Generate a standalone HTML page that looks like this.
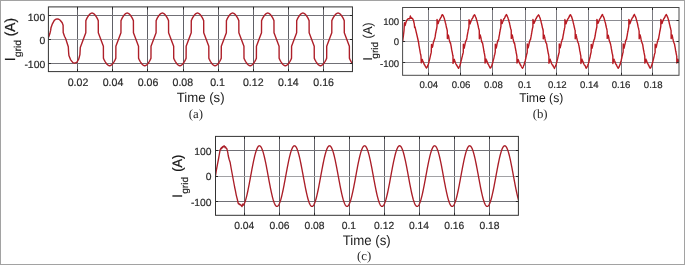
<!DOCTYPE html>
<html><head><meta charset="utf-8"><style>
html,body{margin:0;padding:0;background:#fff;}
body{width:685px;height:265px;overflow:hidden;position:relative;font-family:"Liberation Sans",sans-serif;}
.frame{position:absolute;left:0;top:0;width:685px;height:265px;box-sizing:border-box;border:1px solid #a2a2a2;}
svg{position:absolute;left:0;top:0;will-change:transform;}
svg text{font-family:"Liberation Sans",sans-serif;text-rendering:geometricPrecision;}
</style></head><body>
<div class="frame"></div>
<svg width="685" height="265" viewBox="0 0 685 265">
<clipPath id="ca"><rect x="48.4" y="6.9" width="304.05" height="64.7"/></clipPath>
<path d="M77.5 6.9V71.6M112.5 6.9V71.6M147.5 6.9V71.6M183.5 6.9V71.6M218.5 6.9V71.6M253.5 6.9V71.6M288.5 6.9V71.6M323.5 6.9V71.6" stroke="#606066" stroke-width="1" fill="none"/>
<path d="M48.4 15.5H352.45M48.4 63.5H352.45" stroke="#707076" stroke-width="1" fill="none"/>
<path d="M48.4 39.5H352.45" stroke="#a2a2a6" stroke-width="1" fill="none"/>
<path d="M48.6 37.2 L49.9 33.6 L50.7 30.2 L51 27.7 L52.4 23.8 L54.3 20.4 L55.8 19.3 L57.3 18.9 L58.8 19.2 L60.2 20.3 L62.2 22.8 L63.1 25.2 L63.2 32.6 L64.6 36.5 L65.6 38.4 L67 42.7 L68.3 46.8 L68.6 52 L68.9 55.5 L70.5 59.6 L72.9 62.6 L74.6 63.2 L76.8 62.3 L78.7 59.2 L79.9 54.6 L80.3 47.6 L83.28 39.4 L85.81 32.67 L85.86 20.64 L86.38 19.43 L86.89 18.4 L87.41 17.45 L87.93 16.58 L88.44 15.79 L88.96 15.1 L89.48 14.49 L89.99 13.99 L90.51 13.59 L91.03 13.3 L91.54 13.12 L92.06 13.07 L92.58 13.12 L93.09 13.3 L93.61 13.59 L94.13 13.99 L94.64 14.49 L95.16 15.1 L95.68 15.79 L96.19 16.58 L96.71 17.45 L97.23 18.4 L97.74 19.43 L98.26 20.64 L98.31 32.67 L100.84 39.4 L103.38 46.13 L103.43 58.16 L103.95 59.37 L104.46 60.4 L104.98 61.35 L105.5 62.22 L106.01 63.01 L106.53 63.7 L107.05 64.31 L107.56 64.81 L108.08 65.21 L108.6 65.5 L109.11 65.68 L109.63 65.73 L110.15 65.68 L110.66 65.5 L111.18 65.21 L111.7 64.81 L112.21 64.31 L112.73 63.7 L113.25 63.01 L113.76 62.22 L114.28 61.35 L114.8 60.4 L115.31 59.37 L115.83 58.16 L115.88 46.13 L118.42 39.4 L120.95 32.67 L121 20.64 L121.52 19.43 L122.03 18.4 L122.55 17.45 L123.07 16.58 L123.58 15.79 L124.1 15.1 L124.62 14.49 L125.13 13.99 L125.65 13.59 L126.17 13.3 L126.68 13.12 L127.2 13.07 L127.72 13.12 L128.23 13.3 L128.75 13.59 L129.27 13.99 L129.78 14.49 L130.3 15.1 L130.82 15.79 L131.33 16.58 L131.85 17.45 L132.37 18.4 L132.88 19.43 L133.4 20.64 L133.45 32.67 L135.99 39.4 L138.52 46.13 L138.57 58.16 L139.09 59.37 L139.6 60.4 L140.12 61.35 L140.64 62.22 L141.15 63.01 L141.67 63.7 L142.19 64.31 L142.7 64.81 L143.22 65.21 L143.74 65.5 L144.25 65.68 L144.77 65.73 L145.29 65.68 L145.8 65.5 L146.32 65.21 L146.84 64.81 L147.35 64.31 L147.87 63.7 L148.39 63.01 L148.9 62.22 L149.42 61.35 L149.94 60.4 L150.45 59.37 L150.97 58.16 L151.02 46.13 L153.56 39.4 L156.09 32.67 L156.14 20.64 L156.66 19.43 L157.17 18.4 L157.69 17.45 L158.21 16.58 L158.72 15.79 L159.24 15.1 L159.76 14.49 L160.27 13.99 L160.79 13.59 L161.31 13.3 L161.82 13.12 L162.34 13.07 L162.86 13.12 L163.37 13.3 L163.89 13.59 L164.41 13.99 L164.92 14.49 L165.44 15.1 L165.96 15.79 L166.47 16.58 L166.99 17.45 L167.51 18.4 L168.02 19.43 L168.54 20.64 L168.59 32.67 L171.12 39.4 L173.66 46.13 L173.71 58.16 L174.23 59.37 L174.74 60.4 L175.26 61.35 L175.78 62.22 L176.29 63.01 L176.81 63.7 L177.33 64.31 L177.84 64.81 L178.36 65.21 L178.88 65.5 L179.39 65.68 L179.91 65.73 L180.43 65.68 L180.94 65.5 L181.46 65.21 L181.98 64.81 L182.49 64.31 L183.01 63.7 L183.53 63.01 L184.04 62.22 L184.56 61.35 L185.08 60.4 L185.59 59.37 L186.11 58.16 L186.16 46.13 L188.7 39.4 L191.23 32.67 L191.28 20.64 L191.8 19.43 L192.31 18.4 L192.83 17.45 L193.35 16.58 L193.86 15.79 L194.38 15.1 L194.9 14.49 L195.41 13.99 L195.93 13.59 L196.45 13.3 L196.96 13.12 L197.48 13.07 L198 13.12 L198.51 13.3 L199.03 13.59 L199.55 13.99 L200.06 14.49 L200.58 15.1 L201.1 15.79 L201.61 16.58 L202.13 17.45 L202.65 18.4 L203.16 19.43 L203.68 20.64 L203.73 32.67 L206.27 39.4 L208.8 46.13 L208.85 58.16 L209.37 59.37 L209.88 60.4 L210.4 61.35 L210.92 62.22 L211.43 63.01 L211.95 63.7 L212.47 64.31 L212.98 64.81 L213.5 65.21 L214.02 65.5 L214.53 65.68 L215.05 65.73 L215.57 65.68 L216.08 65.5 L216.6 65.21 L217.12 64.81 L217.63 64.31 L218.15 63.7 L218.67 63.01 L219.18 62.22 L219.7 61.35 L220.22 60.4 L220.73 59.37 L221.25 58.16 L221.3 46.13 L223.84 39.4 L226.37 32.67 L226.42 20.64 L226.94 19.43 L227.45 18.4 L227.97 17.45 L228.49 16.58 L229 15.79 L229.52 15.1 L230.04 14.49 L230.55 13.99 L231.07 13.59 L231.59 13.3 L232.1 13.12 L232.62 13.07 L233.14 13.12 L233.65 13.3 L234.17 13.59 L234.69 13.99 L235.2 14.49 L235.72 15.1 L236.24 15.79 L236.75 16.58 L237.27 17.45 L237.79 18.4 L238.3 19.43 L238.82 20.64 L238.87 32.67 L241.41 39.4 L243.94 46.13 L243.99 58.16 L244.51 59.37 L245.02 60.4 L245.54 61.35 L246.06 62.22 L246.57 63.01 L247.09 63.7 L247.61 64.31 L248.12 64.81 L248.64 65.21 L249.16 65.5 L249.67 65.68 L250.19 65.73 L250.71 65.68 L251.22 65.5 L251.74 65.21 L252.26 64.81 L252.77 64.31 L253.29 63.7 L253.81 63.01 L254.32 62.22 L254.84 61.35 L255.36 60.4 L255.87 59.37 L256.39 58.16 L256.44 46.13 L258.97 39.4 L261.51 32.67 L261.56 20.64 L262.08 19.43 L262.59 18.4 L263.11 17.45 L263.63 16.58 L264.14 15.79 L264.66 15.1 L265.18 14.49 L265.69 13.99 L266.21 13.59 L266.73 13.3 L267.24 13.12 L267.76 13.07 L268.28 13.12 L268.79 13.3 L269.31 13.59 L269.83 13.99 L270.34 14.49 L270.86 15.1 L271.38 15.79 L271.89 16.58 L272.41 17.45 L272.93 18.4 L273.44 19.43 L273.96 20.64 L274.01 32.67 L276.54 39.4 L279.08 46.13 L279.13 58.16 L279.65 59.37 L280.16 60.4 L280.68 61.35 L281.2 62.22 L281.71 63.01 L282.23 63.7 L282.75 64.31 L283.26 64.81 L283.78 65.21 L284.3 65.5 L284.81 65.68 L285.33 65.73 L285.85 65.68 L286.36 65.5 L286.88 65.21 L287.4 64.81 L287.91 64.31 L288.43 63.7 L288.95 63.01 L289.46 62.22 L289.98 61.35 L290.5 60.4 L291.01 59.37 L291.53 58.16 L291.58 46.13 L294.11 39.4 L296.65 32.67 L296.7 20.64 L297.22 19.43 L297.73 18.4 L298.25 17.45 L298.77 16.58 L299.28 15.79 L299.8 15.1 L300.32 14.49 L300.83 13.99 L301.35 13.59 L301.87 13.3 L302.38 13.12 L302.9 13.07 L303.42 13.12 L303.93 13.3 L304.45 13.59 L304.97 13.99 L305.48 14.49 L306 15.1 L306.52 15.79 L307.03 16.58 L307.55 17.45 L308.07 18.4 L308.58 19.43 L309.1 20.64 L309.15 32.67 L311.68 39.4 L314.22 46.13 L314.27 58.16 L314.79 59.37 L315.3 60.4 L315.82 61.35 L316.34 62.22 L316.85 63.01 L317.37 63.7 L317.89 64.31 L318.4 64.81 L318.92 65.21 L319.44 65.5 L319.95 65.68 L320.47 65.73 L320.99 65.68 L321.5 65.5 L322.02 65.21 L322.54 64.81 L323.05 64.31 L323.57 63.7 L324.09 63.01 L324.6 62.22 L325.12 61.35 L325.64 60.4 L326.15 59.37 L326.67 58.16 L326.72 46.13 L329.25 39.4 L331.79 32.67 L331.84 20.64 L332.36 19.43 L332.87 18.4 L333.39 17.45 L333.91 16.58 L334.42 15.79 L334.94 15.1 L335.46 14.49 L335.97 13.99 L336.49 13.59 L337.01 13.3 L337.52 13.12 L338.04 13.07 L338.56 13.12 L339.07 13.3 L339.59 13.59 L340.11 13.99 L340.62 14.49 L341.14 15.1 L341.66 15.79 L342.17 16.58 L342.69 17.45 L343.21 18.4 L343.72 19.43 L344.24 20.64 L344.29 32.67 L346.82 39.4 L349.36 46.13 L349.41 58.16 L349.93 59.37 L350.44 60.4 L350.96 61.35 L351.48 62.22 L351.99 63.01 L352.51 63.7 L353.03 64.31 L353.54 64.81 L354.06 65.21 L354.58 65.5 L355.09 65.68" stroke="#ae1f29" stroke-width="1.4" fill="none" stroke-linejoin="round" clip-path="url(#ca)"/>
<path d="M77.5 71.6v-2.5M77.5 6.9v2.5M112.5 71.6v-2.5M112.5 6.9v2.5M147.5 71.6v-2.5M147.5 6.9v2.5M183.5 71.6v-2.5M183.5 6.9v2.5M218.5 71.6v-2.5M218.5 6.9v2.5M253.5 71.6v-2.5M253.5 6.9v2.5M288.5 71.6v-2.5M288.5 6.9v2.5M323.5 71.6v-2.5M323.5 6.9v2.5M48.4 15.5h2.5M352.45 15.5h-2.5M48.4 39.5h2.5M352.45 39.5h-2.5M48.4 63.5h2.5M352.45 63.5h-2.5" stroke="#262626" stroke-width="1" fill="none"/>
<rect x="48.4" y="6.9" width="304.05" height="64.7" stroke="#333333" stroke-width="1" fill="none"/>
<text transform="translate(78 85.8) scale(0.98 1)" font-size="10.8" text-anchor="middle" fill="#2a2a2a" stroke="#2a2a2a" stroke-width="0.2">0.02</text>
<text transform="translate(113 85.8) scale(0.98 1)" font-size="10.8" text-anchor="middle" fill="#2a2a2a" stroke="#2a2a2a" stroke-width="0.2">0.04</text>
<text transform="translate(148.03 85.8) scale(0.98 1)" font-size="10.8" text-anchor="middle" fill="#2a2a2a" stroke="#2a2a2a" stroke-width="0.2">0.06</text>
<text transform="translate(182.8 85.8) scale(0.98 1)" font-size="10.8" text-anchor="middle" fill="#2a2a2a" stroke="#2a2a2a" stroke-width="0.2">0.08</text>
<text transform="translate(217.55 85.8) scale(0.98 1)" font-size="10.8" text-anchor="middle" fill="#2a2a2a" stroke="#2a2a2a" stroke-width="0.2">0.1</text>
<text transform="translate(253.27 85.8) scale(0.98 1)" font-size="10.8" text-anchor="middle" fill="#2a2a2a" stroke="#2a2a2a" stroke-width="0.2">0.12</text>
<text transform="translate(288.38 85.8) scale(0.98 1)" font-size="10.8" text-anchor="middle" fill="#2a2a2a" stroke="#2a2a2a" stroke-width="0.2">0.14</text>
<text transform="translate(323.64 85.8) scale(0.98 1)" font-size="10.8" text-anchor="middle" fill="#2a2a2a" stroke="#2a2a2a" stroke-width="0.2">0.16</text>
<text x="45.2" y="21.34" font-size="10.4" text-anchor="end" fill="#2a2a2a" stroke="#2a2a2a" stroke-width="0.2">100</text>
<text x="45.2" y="44.24" font-size="10.4" text-anchor="end" fill="#2a2a2a" stroke="#2a2a2a" stroke-width="0.2">0</text>
<text x="45.2" y="68.24" font-size="10.4" text-anchor="end" fill="#2a2a2a" stroke="#2a2a2a" stroke-width="0.2">-100</text>
<clipPath id="cb"><rect x="402.6" y="7.5" width="276.4" height="67.8"/></clipPath>
<path d="M428.5 7.5V75.3M460.5 7.5V75.3M492.5 7.5V75.3M525.5 7.5V75.3M556.5 7.5V75.3M588.5 7.5V75.3M621.5 7.5V75.3M652.5 7.5V75.3" stroke="#7a7a80" stroke-width="1" fill="none"/>
<path d="M402.6 20.5H679M402.6 62.5H679" stroke="#8c8c92" stroke-width="1" fill="none"/>
<path d="M402.6 41.5H679" stroke="#a8a8ac" stroke-width="1" fill="none"/>
<path d="M402.6 41.4 L403.3 36.5 L404 30.6 L404.4 23.5 L404.6 22.7 L405.1 25.6 L406.2 21.6 L407.4 19.3 L408.5 18.6 L409.4 18.9 L409.9 17.8 L410.4 15.9 L410.9 18.2 L411.8 18 L412.7 18.8 L413.6 21 L414.3 24.2 L414.6 27.5 L415 26.8 L416.4 32.9 L417.6 38 L418.6 42.5 L419 45.58 L419.25 46.83 L419.5 48.38 L419.75 49.67 L420 51.03 L420.25 52.68 L420.5 53.99 L420.75 54.73 L421 56.34 L421.25 62.79 L421.5 61.48 L421.75 60.96 L422 59.86 L422.25 59.41 L422.5 60.05 L422.75 61.06 L423 61.43 L423.25 61.92 L423.5 62.74 L423.75 63.16 L424 63.72 L424.25 64.58 L424.5 64.58 L424.75 65.08 L425 65.62 L425.25 66.33 L425.5 66.32 L425.75 67.04 L426 67.31 L426.25 67.6 L426.5 68.04 L426.75 67.55 L427 67.43 L427.25 66.68 L427.5 66.37 L427.75 65.48 L428 64.89 L428.25 64.65 L428.5 63.85 L428.75 62.9 L429 61.49 L429.25 60.85 L429.5 59.71 L429.75 58.87 L430 57.65 L430.25 56.61 L430.5 55.47 L430.75 54.35 L431 53.36 L431.25 52.14 L431.5 44.55 L431.75 45.39 L432 46.41 L432.25 47.27 L432.5 46.87 L432.75 46.02 L433 44.4 L433.25 43.14 L433.5 41.98 L433.75 41.25 L434 40.45 L434.25 40.06 L434.5 38.95 L434.75 38.7 L435 37.44 L435.25 36.13 L435.5 34.19 L435.75 32.67 L435.9 32.39 L436 31.42 L436.25 30.37 L436.5 29.26 L436.75 27.91 L437 26.37 L437.05 19.34 L437.25 20.51 L437.5 20.98 L437.75 22.19 L438 22.65 L438.2 23.62 L438.25 23.12 L438.5 22.32 L438.75 21.92 L439 20.93 L439.25 20.73 L439.5 20.28 L439.75 19.39 L440 19.24 L440.25 18.66 L440.5 18.09 L440.75 17.57 L441 17.51 L441.25 17.02 L441.5 15.99 L441.75 15.87 L442 15.03 L442.25 14.69 L442.5 14.68 L442.75 15.04 L443 15.45 L443.25 15.87 L443.5 16.44 L443.75 17.05 L444 17.63 L444.25 18.17 L444.5 19.23 L444.75 20.17 L445 20.93 L445.25 22.22 L445.5 23.19 L445.75 23.82 L446 25.2 L446.25 26.3 L446.5 27.8 L446.75 28.51 L447 29.4 L447.25 30.77 L447.3 30.6 L447.35 38.6 L447.5 38.35 L447.75 37 L448 36.13 L448.25 35.05 L448.3 35.07 L448.5 35.76 L448.75 36.91 L449 38.54 L449.25 39.71 L449.49 40.46 L449.5 40.35 L449.6 41.28 L449.75 41.57 L450 42.2 L450.25 43.08 L450.5 42.77 L450.75 44.25 L451 45.67 L451.25 46.97 L451.5 48.6 L451.75 49.98 L451.8 50.02 L451.88 50.97 L452 51.23 L452.25 52.41 L452.5 53.96 L452.75 55.27 L452.99 56.07 L453 58.52 L453.04 63.42 L453.25 62.57 L453.5 61.57 L453.75 61.09 L454 60.07 L454.19 59.4 L454.25 59.28 L454.5 60.26 L454.75 60.7 L455 61.8 L455.25 62.33 L455.49 62.7 L455.5 62.58 L455.75 63.41 L456 64.06 L456.25 64.6 L456.5 64.77 L456.75 65.38 L456.99 65.32 L457 65.33 L457.25 66.3 L457.5 66.75 L457.75 66.88 L458 67.41 L458.25 67.69 L458.49 68.29 L458.5 68.41 L458.75 67.89 L459 67.12 L459.25 66.95 L459.5 66.36 L459.75 65.73 L459.99 65.14 L460 65.1 L460.25 64.04 L460.49 63.79 L460.5 63.83 L460.75 62.33 L461 61.43 L461.25 60.38 L461.5 59.71 L461.75 58.33 L462 57.25 L462.25 56.57 L462.49 55.15 L462.5 55.04 L462.75 54.18 L463 53.28 L463.25 52.4 L463.29 52.22 L463.33 44.29 L463.5 45.06 L463.75 45.72 L464 46.88 L464.25 47.5 L464.29 48.12 L464.5 46.58 L464.75 45.55 L465 44.22 L465.25 43.04 L465.47 41.98 L465.5 42.04 L465.58 41.98 L465.75 41.06 L466 40.71 L466.25 39.92 L466.5 39.93 L466.75 38.56 L467 37.18 L467.25 35.4 L467.5 34.17 L467.75 32.91 L467.79 32.77 L467.87 31.9 L468 31.47 L468.25 29.98 L468.5 28.98 L468.75 27.82 L468.97 26.52 L469 22.16 L469.02 19.79 L469.25 20.14 L469.5 20.89 L469.75 21.82 L470 22.69 L470.17 23.82 L470.25 23.19 L470.5 22.31 L470.75 22.12 L471 21.31 L471.25 20.68 L471.47 19.99 L471.5 19.99 L471.75 19.41 L472 18.71 L472.25 18.73 L472.5 18.27 L472.75 17.83 L472.97 17.53 L473 17.49 L473.25 16.37 L473.5 15.94 L473.75 15.96 L474 15.27 L474.25 15.01 L474.47 14.72 L474.5 14.74 L474.75 14.97 L475 15.47 L475.25 16.11 L475.5 16.76 L475.75 17.27 L475.97 17.95 L476 17.76 L476.25 18.4 L476.47 19.31 L476.5 19.6 L476.75 20.44 L477 21.27 L477.25 22.1 L477.5 23.01 L477.75 24.33 L478 25.15 L478.25 26.39 L478.47 27.54 L478.5 27.69 L478.75 28.58 L479 29.44 L479.25 30.64 L479.27 30.55 L479.32 38.7 L479.5 38.11 L479.75 36.94 L480 35.87 L480.25 35.32 L480.27 35.02 L480.5 36.08 L480.75 36.96 L481 38.11 L481.25 39.66 L481.45 40.32 L481.5 40.6 L481.57 41.28 L481.75 41.65 L482 42.58 L482.25 42.85 L482.5 42.76 L482.75 44.07 L483 45.58 L483.25 47.1 L483.5 48.5 L483.75 50.03 L483.77 50.44 L483.86 50.62 L484 51.74 L484.25 52.94 L484.5 53.82 L484.75 55.53 L484.95 56.52 L485 62.78 L485 62.98 L485.25 62.63 L485.5 61.9 L485.75 60.52 L486 60.09 L486.15 59.07 L486.25 59.47 L486.5 60.09 L486.75 60.72 L487 61.62 L487.25 62.11 L487.45 63.09 L487.5 62.72 L487.75 63.43 L488 63.81 L488.25 64.66 L488.5 64.68 L488.75 64.95 L488.95 65.79 L489 65.73 L489.25 66.12 L489.5 66.46 L489.75 67.29 L490 67.75 L490.25 68.08 L490.45 68.12 L490.5 67.97 L490.75 67.78 L491 67.33 L491.25 66.81 L491.5 66.29 L491.75 65.66 L491.95 65.35 L492 64.96 L492.25 63.91 L492.45 63.63 L492.5 63.25 L492.75 62.72 L493 61.43 L493.25 60.41 L493.5 59.43 L493.75 58.47 L494 57.4 L494.25 56.17 L494.45 55.06 L494.5 55.36 L494.75 54.42 L495 53.01 L495.25 51.88 L495.25 52.11 L495.31 44.16 L495.5 44.77 L495.75 46.1 L496 47.01 L496.25 48 L496.25 47.77 L496.5 46.81 L496.75 45.7 L497 44.22 L497.25 42.86 L497.44 42.36 L497.5 41.81 L497.56 41.73 L497.75 40.9 L498 40.36 L498.25 39.85 L498.5 40.03 L498.75 38.7 L499 36.97 L499.25 35.58 L499.5 34.28 L499.75 32.73 L499.75 32.72 L499.84 31.95 L500 31.52 L500.25 29.7 L500.5 28.75 L500.75 27.42 L500.94 26.56 L500.99 19.37 L501 19.41 L501.25 20.38 L501.5 21.27 L501.75 21.97 L502 22.77 L502.14 23.57 L502.25 23.03 L502.5 22.16 L502.75 21.78 L503 21.26 L503.25 20.63 L503.44 19.87 L503.5 19.76 L503.75 19.04 L504 18.6 L504.25 18.52 L504.5 18.13 L504.75 17.7 L504.94 17.49 L505 17.02 L505.25 16.38 L505.5 15.85 L505.75 15.8 L506 15 L506.25 14.97 L506.44 14.65 L506.5 14.55 L506.75 15.38 L507 15.84 L507.25 15.87 L507.5 16.77 L507.75 17.32 L507.94 17.66 L508 17.77 L508.25 18.94 L508.44 19.33 L508.5 19.48 L508.75 20.36 L509 21.49 L509.25 22.24 L509.5 23.03 L509.75 24.45 L510 25.45 L510.25 26.85 L510.44 27.63 L510.5 27.62 L510.75 28.94 L511 29.45 L511.24 30.42 L511.25 32.53 L511.29 38.4 L511.5 37.91 L511.75 36.67 L512 35.72 L512.24 35.1 L512.25 34.91 L512.5 36.08 L512.75 37.15 L513 38.68 L513.25 39.56 L513.42 40.28 L513.5 40.82 L513.54 41.1 L513.75 41.96 L514 42.43 L514.25 43.23 L514.5 42.89 L514.75 44.37 L515 45.89 L515.25 47.58 L515.5 48.72 L515.74 50.11 L515.75 50.45 L515.83 50.42 L516 51.48 L516.25 53.11 L516.5 53.87 L516.75 55.62 L516.92 56.37 L516.98 63.08 L517 63.08 L517.25 62.3 L517.5 61.4 L517.75 60.66 L518 59.86 L518.12 59.5 L518.25 59.94 L518.5 60.26 L518.75 60.93 L519 61.72 L519.25 62.22 L519.42 62.88 L519.5 63.11 L519.75 63.57 L520 63.77 L520.25 64.76 L520.5 64.89 L520.75 65.43 L520.92 65.34 L521 65.78 L521.25 66.33 L521.5 66.79 L521.75 67.16 L522 67.42 L522.25 68.06 L522.42 67.98 L522.5 68.32 L522.75 67.8 L523 67.45 L523.25 66.93 L523.5 65.95 L523.75 65.39 L523.92 65.29 L524 65.07 L524.25 64.17 L524.42 63.42 L524.5 63.1 L524.75 62.23 L525 61.38 L525.25 60.67 L525.5 59.48 L525.75 58.55 L526 57.24 L526.25 56.08 L526.42 55.5 L526.5 55.18 L526.75 53.87 L527 53.34 L527.23 51.93 L527.25 47.87 L527.27 43.84 L527.5 45.1 L527.75 45.98 L528 46.92 L528.23 47.74 L528.25 47.41 L528.5 46.44 L528.75 45.51 L529 43.97 L529.25 43.01 L529.41 42.17 L529.5 41.65 L529.52 41.99 L529.75 40.87 L530 40.23 L530.25 39.63 L530.5 39.67 L530.75 38.25 L531 36.97 L531.25 35.32 L531.5 34.19 L531.73 32.61 L531.75 32.38 L531.81 32.16 L532 31.1 L532.25 29.56 L532.5 28.33 L532.75 27.56 L532.91 26.35 L532.96 19.5 L533 19.99 L533.25 20.61 L533.5 21.53 L533.75 22.49 L534 23.08 L534.11 23.24 L534.25 23.2 L534.5 22.13 L534.75 21.55 L535 21.25 L535.25 20.16 L535.41 19.94 L535.5 19.54 L535.75 19.13 L536 18.62 L536.25 18.41 L536.5 17.69 L536.75 17.24 L536.91 17.06 L537 17.12 L537.25 16.38 L537.5 16.05 L537.75 15.84 L538 15.47 L538.25 15.08 L538.41 14.79 L538.5 14.96 L538.75 15.17 L539 15.51 L539.25 16.13 L539.5 16.75 L539.75 17.21 L539.91 17.83 L540 17.99 L540.25 18.56 L540.41 19.29 L540.5 19.75 L540.75 20.21 L541 21.28 L541.25 22.5 L541.5 23.52 L541.75 24.49 L542 25.55 L542.25 26.92 L542.41 27.81 L542.5 28.02 L542.75 28.63 L543 30.04 L543.21 30.7 L543.25 37.27 L543.26 38.86 L543.5 37.92 L543.75 36.79 L544 35.98 L544.21 35.27 L544.25 35.4 L544.5 36.52 L544.75 37.49 L545 38.95 L545.25 40.17 L545.39 40.6 L545.5 41.14 L545.51 41 L545.75 42.08 L546 42.57 L546.25 43.29 L546.5 43.51 L546.75 44.36 L547 46.29 L547.25 47.81 L547.5 49 L547.71 50.4 L547.75 50.34 L547.79 50.77 L548 51.97 L548.25 53.31 L548.5 54.15 L548.75 55.69 L548.89 56.08 L548.95 63.24 L549 62.77 L549.25 62.36 L549.5 61.55 L549.75 60.68 L550 59.44 L550.1 59.21 L550.25 59.85 L550.5 60.73 L550.75 61.05 L551 61.53 L551.25 62.39 L551.39 63.11 L551.5 63.33 L551.75 63.82 L552 64.27 L552.25 64.81 L552.5 65.22 L552.75 65.21 L552.89 65.26 L553 65.94 L553.25 65.99 L553.5 66.8 L553.75 67.04 L554 67.38 L554.25 67.73 L554.39 68.49 L554.5 68.15 L554.75 67.54 L555 66.85 L555.25 66.88 L555.5 66.19 L555.75 65.24 L555.89 65.33 L556 64.85 L556.25 64.13 L556.39 63.46 L556.5 62.93 L556.75 62.49 L557 61.17 L557.25 60.18 L557.5 59.08 L557.75 58.19 L558 56.85 L558.25 56.07 L558.39 55.36 L558.5 55.08 L558.75 53.75 L559 52.94 L559.2 52.27 L559.25 44.33 L559.25 44 L559.5 45.08 L559.75 46 L560 47.16 L560.2 47.84 L560.25 47.79 L560.5 46.28 L560.75 45.55 L561 44.08 L561.25 42.7 L561.38 42.12 L561.5 41.93 L561.5 41.83 L561.75 40.74 L562 40.16 L562.25 39.3 L562.5 39.27 L562.75 38.09 L563 36.35 L563.25 35.01 L563.5 33.83 L563.7 32.69 L563.75 32.57 L563.78 32.19 L564 30.7 L564.25 29.95 L564.5 28.39 L564.75 27.43 L564.88 26.8 L564.93 19.48 L565 19.97 L565.25 20.9 L565.5 21.68 L565.75 22.23 L566 23.16 L566.08 23.82 L566.25 23.17 L566.5 21.99 L566.75 21.77 L567 20.9 L567.25 20.37 L567.38 19.83 L567.5 19.67 L567.75 19.02 L568 18.69 L568.25 18.45 L568.5 18.04 L568.75 17.73 L568.88 17.08 L569 17.26 L569.25 16.78 L569.5 15.69 L569.75 15.73 L570 14.89 L570.25 15.04 L570.38 14.63 L570.5 14.97 L570.75 15.01 L571 15.62 L571.25 16.12 L571.5 16.61 L571.75 17.14 L571.88 17.81 L572 17.99 L572.25 18.85 L572.38 19.48 L572.5 19.44 L572.75 20.52 L573 21.34 L573.25 22.72 L573.5 23.54 L573.75 24.66 L574 25.6 L574.25 27.15 L574.38 27.59 L574.5 27.96 L574.75 29.2 L575 29.9 L575.18 30.53 L575.23 38.73 L575.25 38.5 L575.5 37.53 L575.75 36.79 L576 35.75 L576.18 34.66 L576.25 35.4 L576.5 36.5 L576.75 37.89 L577 38.99 L577.25 40.23 L577.37 40.3 L577.48 40.98 L577.5 40.94 L577.75 41.58 L578 42.52 L578.25 43.03 L578.5 43.36 L578.75 44.88 L579 46 L579.25 47.47 L579.5 48.88 L579.68 50.2 L579.75 50.41 L579.76 50.73 L580 51.58 L580.25 52.91 L580.5 54.58 L580.75 55.42 L580.87 56.46 L580.91 63.48 L581 62.81 L581.25 62.26 L581.5 61.28 L581.75 60.33 L582 59.82 L582.07 59.14 L582.25 59.98 L582.5 60.6 L582.75 61.35 L583 61.75 L583.25 62.36 L583.37 62.93 L583.5 63.35 L583.75 63.75 L584 64.17 L584.25 64.84 L584.5 65.2 L584.75 65.19 L584.87 65.38 L585 65.52 L585.25 66.05 L585.5 66.6 L585.75 67.37 L586 67.9 L586.25 68.17 L586.37 68.22 L586.5 67.97 L586.75 67.52 L587 67.16 L587.25 66.33 L587.5 66.13 L587.75 65.41 L587.87 64.84 L588 64.5 L588.25 64.06 L588.37 63.73 L588.5 62.89 L588.75 62.48 L589 61.44 L589.25 60.19 L589.5 59.14 L589.75 58.31 L590 57.27 L590.25 56.03 L590.37 55.14 L590.5 54.81 L590.75 53.51 L591 52.62 L591.16 51.82 L591.22 44.41 L591.25 44.46 L591.5 45.57 L591.75 46.29 L592 47.31 L592.16 48.11 L592.25 47.41 L592.5 46.54 L592.75 45.22 L593 44.07 L593.25 42.52 L593.35 42.28 L593.47 41.83 L593.5 41.87 L593.75 40.92 L594 40.08 L594.25 39.34 L594.5 39.07 L594.75 37.68 L595 36.59 L595.25 35.22 L595.5 33.39 L595.66 32.43 L595.75 32.12 L596 30.62 L596.25 29.51 L596.5 28.42 L596.75 27.24 L596.85 26.84 L596.9 19.49 L597 19.65 L597.25 20.46 L597.5 21.58 L597.75 22.33 L598 23.05 L598.05 23.31 L598.25 22.85 L598.5 22.25 L598.75 21.5 L599 21.07 L599.25 20.45 L599.35 19.89 L599.5 19.36 L599.75 19.11 L600 18.71 L600.25 18.3 L600.5 17.82 L600.75 17.23 L600.85 17.32 L601 16.66 L601.25 16.64 L601.5 16.05 L601.75 15.47 L602 15.14 L602.25 14.51 L602.35 14.4 L602.5 14.57 L602.75 15.21 L603 16.05 L603.25 16.23 L603.5 16.81 L603.75 17.46 L603.85 17.85 L604 18.02 L604.25 18.65 L604.35 19.48 L604.5 19.66 L604.75 20.77 L605 21.64 L605.25 22.41 L605.5 23.4 L605.75 24.68 L606 26.08 L606.25 26.76 L606.35 27.69 L606.5 28.14 L606.75 28.84 L607 30.17 L607.15 30.82 L607.2 38.4 L607.25 38.2 L607.5 37.59 L607.75 36.56 L608 35.68 L608.15 35.21 L608.25 35.59 L608.5 36.29 L608.75 38.03 L609 39.13 L609.25 40.35 L609.34 40.83 L609.45 41.11 L609.5 41.11 L609.75 41.76 L610 42.6 L610.25 43.19 L610.5 43.87 L610.75 45.14 L611 46.16 L611.25 48.17 L611.5 49.48 L611.65 50.2 L611.74 50.82 L611.75 50.72 L612 52.33 L612.25 53.5 L612.5 54.31 L612.75 56.07 L612.84 56.01 L612.88 63.43 L613 62.54 L613.25 61.92 L613.5 61.09 L613.75 60.54 L614 59.7 L614.03 59.13 L614.25 60.14 L614.5 60.84 L614.75 61.12 L615 61.74 L615.25 62.88 L615.34 62.5 L615.5 63.14 L615.75 63.76 L616 64.42 L616.25 64.69 L616.5 64.72 L616.75 65.54 L616.84 65.75 L617 66.11 L617.25 66.65 L617.5 66.99 L617.75 67.07 L618 68 L618.25 68.28 L618.34 67.92 L618.5 67.62 L618.75 67.19 L619 67.17 L619.25 66.58 L619.5 65.63 L619.75 65.32 L619.84 64.96 L620 64.72 L620.25 64.14 L620.34 63.67 L620.5 62.82 L620.75 61.87 L621 61.04 L621.25 60.1 L621.5 59.02 L621.75 58 L622 56.83 L622.25 55.49 L622.34 55.5 L622.5 54.62 L622.75 53.42 L623 52.46 L623.13 52.33 L623.18 43.83 L623.25 44.17 L623.5 45.6 L623.75 46.51 L624 47.51 L624.13 48.11 L624.25 47 L624.5 46.2 L624.75 44.73 L625 44.02 L625.25 42.88 L625.32 42 L625.43 41.49 L625.5 41.18 L625.75 40.67 L626 40.06 L626.25 39.2 L626.5 39.42 L626.75 37.68 L627 36.3 L627.25 35.04 L627.5 33.32 L627.63 32.72 L627.72 32.12 L627.75 32.05 L628 30.79 L628.25 29.48 L628.5 28.07 L628.75 26.58 L628.82 26.26 L628.87 19.35 L629 19.78 L629.25 20.95 L629.5 21.36 L629.75 22.68 L630 23.67 L630.02 23.51 L630.25 22.68 L630.5 22.21 L630.75 21.34 L631 20.92 L631.25 19.88 L631.32 20.04 L631.5 19.62 L631.75 19.06 L632 18.36 L632.25 17.84 L632.5 17.73 L632.75 17.42 L632.82 17.21 L633 17.16 L633.25 16.41 L633.5 15.66 L633.75 15.26 L634 15.32 L634.25 14.47 L634.32 14.68 L634.5 14.59 L634.75 15.42 L635 16 L635.25 16.31 L635.5 16.67 L635.75 17.57 L635.82 17.48 L636 18.1 L636.25 19.09 L636.32 19.36 L636.5 19.87 L636.75 20.87 L637 21.85 L637.25 22.68 L637.5 23.59 L637.75 24.85 L638 26.24 L638.25 27.34 L638.32 27.57 L638.5 28.11 L638.75 29.4 L639 30.45 L639.12 30.79 L639.17 38.82 L639.25 38.65 L639.5 37.33 L639.75 36.11 L640 35.4 L640.12 34.82 L640.25 35.36 L640.5 36.52 L640.75 37.65 L641 39.14 L641.25 40.19 L641.3 40.81 L641.42 40.88 L641.5 41.43 L641.75 42.07 L642 42.52 L642.25 43.61 L642.5 43.93 L642.75 44.98 L643 46.57 L643.25 48.33 L643.5 49.8 L643.62 50.28 L643.71 50.98 L643.75 50.7 L644 52.4 L644.25 53.62 L644.5 54.82 L644.75 55.98 L644.8 56.31 L644.86 63.14 L645 62.65 L645.25 61.97 L645.5 61.34 L645.75 59.91 L646 59.19 L646 59.55 L646.25 60.05 L646.5 60.57 L646.75 61.1 L647 62.33 L647.25 62.97 L647.3 62.8 L647.5 63.27 L647.75 63.5 L648 64.02 L648.25 64.78 L648.5 65.13 L648.75 65.39 L648.8 65.27 L649 66.14 L649.25 66.54 L649.5 67.21 L649.75 67.3 L650 68.08 L650.25 67.85 L650.3 68.18 L650.5 67.84 L650.75 67.7 L651 67.12 L651.25 66.44 L651.5 65.62 L651.75 65.21 L651.8 65.23 L652 64.21 L652.25 63.64 L652.3 63.55 L652.5 63.06 L652.75 62.07 L653 60.72 L653.25 60.19 L653.5 58.89 L653.75 57.76 L654 56.81 L654.25 55.39 L654.3 55.05 L654.5 54.33 L654.75 53.42 L655 52.74 L655.11 52.4 L655.15 44.16 L655.25 44.62 L655.5 45.7 L655.75 46.24 L656 47.61 L656.11 47.62 L656.25 46.88 L656.5 46.24 L656.75 44.56 L657 43.69 L657.25 42.61 L657.29 42.43 L657.4 41.97 L657.5 41.41 L657.75 40.78 L658 39.77 L658.25 39.07 L658.5 39.26 L658.75 37.59 L659 36.15 L659.25 34.85 L659.5 33.37 L659.61 32.76 L659.69 32.01 L659.75 31.92 L660 30.77 L660.25 29.42 L660.5 28.02 L660.75 26.69 L660.79 26.7 L660.84 19.45 L661 20.27 L661.25 20.81 L661.5 21.7 L661.75 22.85 L661.99 23.35 L662 23.55 L662.25 22.71 L662.5 21.97 L662.75 21.27 L663 20.75 L663.25 20.38 L663.29 19.83 L663.5 19.32 L663.75 19.03 L664 18.49 L664.25 18.25 L664.5 17.45 L664.75 17.22 L664.79 17.46 L665 16.62 L665.25 15.99 L665.5 15.92 L665.75 15.07 L666 15.01 L666.25 14.86 L666.29 14.47 L666.5 15.04 L666.75 15.24 L667 15.82 L667.25 16.66 L667.5 16.97 L667.75 17.39 L667.79 17.72 L668 18.3 L668.25 18.87 L668.29 19.26 L668.5 19.99 L668.75 20.87 L669 21.69 L669.25 23.09 L669.5 24.21 L669.75 24.87 L670 26.12 L670.25 27.43 L670.29 27.24 L670.5 28.06 L670.75 29.26 L671 30 L671.09 30.47 L671.14 38.52 L671.25 38.37 L671.5 37.55 L671.75 36.15 L672 35.16 L672.09 35.07 L672.25 35.72 L672.5 36.83 L672.75 38.21 L673 39.12 L673.25 40.41 L673.27 40.64 L673.39 41.37 L673.5 41.4 L673.75 42.25 L674 42.71 L674.25 43.77 L674.5 43.97 L674.75 45.55 L675 46.86 L675.25 48.19 L675.5 49.92 L675.59 50.47 L675.67 50.68 L675.75 51.25 L676 52.35 L676.25 53.84 L676.5 55.15 L676.75 56.12 L676.77 56 L676.83 62.99 L677 62.65 L677.25 61.9 L677.5 61.26 L677.75 60.25 L677.98 59.41 L678 59.09 L678.25 60.35 L678.5 60.53 L678.75 61.5 L679 62.17 L679.25 62.88 L679.27 62.5 L679.5 63.49" stroke="#b81a22" stroke-width="1.4" fill="none" stroke-linejoin="round" clip-path="url(#cb)"/>
<path d="M428.5 75.3v-2.5M428.5 7.5v2.5M460.5 75.3v-2.5M460.5 7.5v2.5M492.5 75.3v-2.5M492.5 7.5v2.5M525.5 75.3v-2.5M525.5 7.5v2.5M556.5 75.3v-2.5M556.5 7.5v2.5M588.5 75.3v-2.5M588.5 7.5v2.5M621.5 75.3v-2.5M621.5 7.5v2.5M652.5 75.3v-2.5M652.5 7.5v2.5M402.6 20.5h2.5M679 20.5h-2.5M402.6 41.5h2.5M679 41.5h-2.5M402.6 62.5h2.5M679 62.5h-2.5" stroke="#262626" stroke-width="1" fill="none"/>
<rect x="402.6" y="7.5" width="276.4" height="67.8" stroke="#4a4a4a" stroke-width="1" fill="none"/>
<text transform="translate(428.75 87.5) scale(1 1)" font-size="9.6" text-anchor="middle" fill="#2a2a2a" stroke="#2a2a2a" stroke-width="0.2">0.04</text>
<text transform="translate(460.97 87.5) scale(1 1)" font-size="9.6" text-anchor="middle" fill="#2a2a2a" stroke="#2a2a2a" stroke-width="0.2">0.06</text>
<text transform="translate(493.44 87.5) scale(1 1)" font-size="9.6" text-anchor="middle" fill="#2a2a2a" stroke="#2a2a2a" stroke-width="0.2">0.08</text>
<text transform="translate(524.57 87.5) scale(1 1)" font-size="9.6" text-anchor="middle" fill="#2a2a2a" stroke="#2a2a2a" stroke-width="0.2">0.1</text>
<text transform="translate(557.26 87.5) scale(1 1)" font-size="9.6" text-anchor="middle" fill="#2a2a2a" stroke="#2a2a2a" stroke-width="0.2">0.12</text>
<text transform="translate(589.23 87.5) scale(1 1)" font-size="9.6" text-anchor="middle" fill="#2a2a2a" stroke="#2a2a2a" stroke-width="0.2">0.14</text>
<text transform="translate(621.11 87.5) scale(1 1)" font-size="9.6" text-anchor="middle" fill="#2a2a2a" stroke="#2a2a2a" stroke-width="0.2">0.16</text>
<text transform="translate(653.16 87.5) scale(1 1)" font-size="9.6" text-anchor="middle" fill="#2a2a2a" stroke="#2a2a2a" stroke-width="0.2">0.18</text>
<text x="399.2" y="24.58" font-size="9.6" text-anchor="end" fill="#2a2a2a" stroke="#2a2a2a" stroke-width="0.2">100</text>
<text x="399.2" y="45.48" font-size="9.6" text-anchor="end" fill="#2a2a2a" stroke="#2a2a2a" stroke-width="0.2">0</text>
<text x="399.2" y="67.33" font-size="9.6" text-anchor="end" fill="#2a2a2a" stroke="#2a2a2a" stroke-width="0.2">-100</text>
<clipPath id="cc"><rect x="215.5" y="136.4" width="302.9" height="78.9"/></clipPath>
<path d="M244.5 136.4V215.3M279.5 136.4V215.3M314.5 136.4V215.3M349.5 136.4V215.3M384.5 136.4V215.3M419.5 136.4V215.3M454.5 136.4V215.3M489.5 136.4V215.3" stroke="#606066" stroke-width="1" fill="none"/>
<path d="M215.5 150.5H518.4M215.5 201.5H518.4" stroke="#707076" stroke-width="1" fill="none"/>
<path d="M215.5 176.5H518.4" stroke="#a2a2a6" stroke-width="1" fill="none"/>
<path d="M215.4 176.3 L216.4 170 L217.5 164.2 L218.5 159 L219.2 155 L219.8 151.6 L220.2 149.7 L220.6 149.2 L220.9 148.1 L221.3 148.9 L221.7 147.5 L222.1 148 L222.5 146.8 L222.9 147.3 L223.3 146.2 L223.8 146.6 L224.2 145.9 L224.6 146.9 L224.9 146.5 L225.3 147.9 L225.7 147 L226.1 147.8 L226.5 148.3 L226.9 148.9 L227.3 150.6 L227.7 152.2 L228.3 156 L229.2 159.5 L230.1 162.2 L231.2 168.5 L232.4 175 L233.6 181.5 L234.6 187 L235.4 190.6 L236.3 195.3 L237.5 200 L238 202.6 L238.4 203.9 L238.9 203.5 L239.5 204.6 L240 204.3 L240.6 205.1 L241.1 205 L241.6 206.1 L242 206.5 L242.5 205.3 L242.9 203.9 L243.6 205.06 L244 204.34 L244.4 203.48 L244.8 202.47 L245.2 201.33 L245.6 200.06 L246 198.67 L246.4 197.16 L246.8 195.54 L247.2 193.82 L247.6 192.01 L248 190.12 L248.4 188.16 L248.8 186.13 L249.2 184.05 L249.6 181.94 L250 179.79 L250.4 177.62 L250.8 175.45 L251.2 173.28 L251.6 171.12 L252 168.99 L252.4 166.89 L252.8 164.85 L253.2 162.86 L253.6 160.94 L254 159.09 L254.4 157.34 L254.8 155.68 L255.2 154.12 L255.6 152.68 L256 151.36 L256.4 150.17 L256.8 149.11 L257.2 148.19 L257.6 147.41 L258 146.78 L258.4 146.3 L258.8 145.97 L259.2 145.8 L259.6 145.79 L260 145.93 L260.4 146.22 L260.8 146.67 L261.2 147.27 L261.6 148.02 L262 148.91 L262.4 149.95 L262.8 151.11 L263.2 152.41 L263.6 153.83 L264 155.36 L264.4 157 L264.8 158.74 L265.2 160.56 L265.6 162.47 L266 164.44 L266.4 166.48 L266.8 168.57 L267.2 170.69 L267.6 172.84 L268 175.01 L268.4 177.19 L268.8 179.36 L269.2 181.51 L269.6 183.63 L270 185.72 L270.4 187.76 L270.8 189.73 L271.2 191.64 L271.6 193.46 L272 195.2 L272.4 196.84 L272.8 198.37 L273.2 199.79 L273.6 201.09 L274 202.25 L274.4 203.29 L274.8 204.18 L275.2 204.93 L275.6 205.53 L276 205.98 L276.4 206.27 L276.8 206.41 L277.2 206.4 L277.6 206.23 L278 205.9 L278.4 205.42 L278.8 204.79 L279.2 204.01 L279.6 203.09 L280 202.03 L280.4 200.84 L280.8 199.52 L281.2 198.08 L281.6 196.52 L282 194.86 L282.4 193.11 L282.8 191.26 L283.2 189.34 L283.6 187.35 L284 185.31 L284.4 183.21 L284.8 181.08 L285.2 178.92 L285.6 176.75 L286 174.58 L286.4 172.41 L286.8 170.26 L287.2 168.15 L287.6 166.07 L288 164.04 L288.4 162.08 L288.8 160.19 L289.2 158.38 L289.6 156.66 L290 155.04 L290.4 153.53 L290.8 152.14 L291.2 150.87 L291.6 149.73 L292 148.72 L292.4 147.86 L292.8 147.14 L293.2 146.57 L293.6 146.15 L294 145.89 L294.4 145.78 L294.8 145.82 L295.2 146.03 L295.6 146.38 L296 146.89 L296.4 147.55 L296.8 148.36 L297.2 149.31 L297.6 150.4 L298 151.62 L298.4 152.96 L298.8 154.43 L299.2 156 L299.6 157.68 L300 159.46 L300.4 161.32 L300.8 163.25 L301.2 165.25 L301.6 167.31 L302 169.41 L302.4 171.55 L302.8 173.71 L303.2 175.88 L303.6 178.06 L304 180.22 L304.4 182.36 L304.8 184.47 L305.2 186.54 L305.6 188.55 L306 190.5 L306.4 192.38 L306.8 194.17 L307.2 195.87 L307.6 197.47 L308 198.95 L308.4 200.32 L308.8 201.57 L309.2 202.68 L309.6 203.66 L310 204.5 L310.4 205.19 L310.8 205.73 L311.2 206.11 L311.6 206.35 L312 206.43 L312.4 206.35 L312.8 206.11 L313.2 205.73 L313.6 205.19 L314 204.5 L314.4 203.66 L314.8 202.68 L315.2 201.57 L315.6 200.32 L316 198.95 L316.4 197.47 L316.8 195.87 L317.2 194.17 L317.6 192.38 L318 190.5 L318.4 188.55 L318.8 186.54 L319.2 184.47 L319.6 182.36 L320 180.22 L320.4 178.06 L320.8 175.88 L321.2 173.71 L321.6 171.55 L322 169.41 L322.4 167.31 L322.8 165.25 L323.2 163.25 L323.6 161.32 L324 159.46 L324.4 157.68 L324.8 156 L325.2 154.43 L325.6 152.96 L326 151.62 L326.4 150.4 L326.8 149.31 L327.2 148.36 L327.6 147.55 L328 146.89 L328.4 146.38 L328.8 146.03 L329.2 145.82 L329.6 145.78 L330 145.89 L330.4 146.15 L330.8 146.57 L331.2 147.14 L331.6 147.86 L332 148.72 L332.4 149.73 L332.8 150.87 L333.2 152.14 L333.6 153.53 L334 155.04 L334.4 156.66 L334.8 158.38 L335.2 160.19 L335.6 162.08 L336 164.04 L336.4 166.07 L336.8 168.15 L337.2 170.26 L337.6 172.41 L338 174.58 L338.4 176.75 L338.8 178.92 L339.2 181.08 L339.6 183.21 L340 185.31 L340.4 187.35 L340.8 189.34 L341.2 191.26 L341.6 193.11 L342 194.86 L342.4 196.52 L342.8 198.08 L343.2 199.52 L343.6 200.84 L344 202.03 L344.4 203.09 L344.8 204.01 L345.2 204.79 L345.6 205.42 L346 205.9 L346.4 206.23 L346.8 206.4 L347.2 206.41 L347.6 206.27 L348 205.98 L348.4 205.53 L348.8 204.93 L349.2 204.18 L349.6 203.29 L350 202.25 L350.4 201.09 L350.8 199.79 L351.2 198.37 L351.6 196.84 L352 195.2 L352.4 193.46 L352.8 191.64 L353.2 189.73 L353.6 187.76 L354 185.72 L354.4 183.63 L354.8 181.51 L355.2 179.36 L355.6 177.19 L356 175.01 L356.4 172.84 L356.8 170.69 L357.2 168.57 L357.6 166.48 L358 164.44 L358.4 162.47 L358.8 160.56 L359.2 158.74 L359.6 157 L360 155.36 L360.4 153.83 L360.8 152.41 L361.2 151.11 L361.6 149.95 L362 148.91 L362.4 148.02 L362.8 147.27 L363.2 146.67 L363.6 146.22 L364 145.93 L364.4 145.79 L364.8 145.8 L365.2 145.97 L365.6 146.3 L366 146.78 L366.4 147.41 L366.8 148.19 L367.2 149.11 L367.6 150.17 L368 151.36 L368.4 152.68 L368.8 154.12 L369.2 155.68 L369.6 157.34 L370 159.09 L370.4 160.94 L370.8 162.86 L371.2 164.85 L371.6 166.89 L372 168.99 L372.4 171.12 L372.8 173.28 L373.2 175.45 L373.6 177.62 L374 179.79 L374.4 181.94 L374.8 184.05 L375.2 186.13 L375.6 188.16 L376 190.12 L376.4 192.01 L376.8 193.82 L377.2 195.54 L377.6 197.16 L378 198.67 L378.4 200.06 L378.8 201.33 L379.2 202.47 L379.6 203.48 L380 204.34 L380.4 205.06 L380.8 205.63 L381.2 206.05 L381.6 206.31 L382 206.42 L382.4 206.38 L382.8 206.17 L383.2 205.82 L383.6 205.31 L384 204.65 L384.4 203.84 L384.8 202.89 L385.2 201.8 L385.6 200.58 L386 199.24 L386.4 197.77 L386.8 196.2 L387.2 194.52 L387.6 192.74 L388 190.88 L388.4 188.95 L388.8 186.95 L389.2 184.89 L389.6 182.79 L390 180.65 L390.4 178.49 L390.8 176.32 L391.2 174.14 L391.6 171.98 L392 169.84 L392.4 167.73 L392.8 165.66 L393.2 163.65 L393.6 161.7 L394 159.82 L394.4 158.03 L394.8 156.33 L395.2 154.73 L395.6 153.25 L396 151.88 L396.4 150.63 L396.8 149.52 L397.2 148.54 L397.6 147.7 L398 147.01 L398.4 146.47 L398.8 146.09 L399.2 145.85 L399.6 145.77 L400 145.85 L400.4 146.09 L400.8 146.47 L401.2 147.01 L401.6 147.7 L402 148.54 L402.4 149.52 L402.8 150.63 L403.2 151.88 L403.6 153.25 L404 154.73 L404.4 156.33 L404.8 158.03 L405.2 159.82 L405.6 161.7 L406 163.65 L406.4 165.66 L406.8 167.73 L407.2 169.84 L407.6 171.98 L408 174.14 L408.4 176.32 L408.8 178.49 L409.2 180.65 L409.6 182.79 L410 184.89 L410.4 186.95 L410.8 188.95 L411.2 190.88 L411.6 192.74 L412 194.52 L412.4 196.2 L412.8 197.77 L413.2 199.24 L413.6 200.58 L414 201.8 L414.4 202.89 L414.8 203.84 L415.2 204.65 L415.6 205.31 L416 205.82 L416.4 206.17 L416.8 206.38 L417.2 206.42 L417.6 206.31 L418 206.05 L418.4 205.63 L418.8 205.06 L419.2 204.34 L419.6 203.48 L420 202.47 L420.4 201.33 L420.8 200.06 L421.2 198.67 L421.6 197.16 L422 195.54 L422.4 193.82 L422.8 192.01 L423.2 190.12 L423.6 188.16 L424 186.13 L424.4 184.05 L424.8 181.94 L425.2 179.79 L425.6 177.62 L426 175.45 L426.4 173.28 L426.8 171.12 L427.2 168.99 L427.6 166.89 L428 164.85 L428.4 162.86 L428.8 160.94 L429.2 159.09 L429.6 157.34 L430 155.68 L430.4 154.12 L430.8 152.68 L431.2 151.36 L431.6 150.17 L432 149.11 L432.4 148.19 L432.8 147.41 L433.2 146.78 L433.6 146.3 L434 145.97 L434.4 145.8 L434.8 145.79 L435.2 145.93 L435.6 146.22 L436 146.67 L436.4 147.27 L436.8 148.02 L437.2 148.91 L437.6 149.95 L438 151.11 L438.4 152.41 L438.8 153.83 L439.2 155.36 L439.6 157 L440 158.74 L440.4 160.56 L440.8 162.47 L441.2 164.44 L441.6 166.48 L442 168.57 L442.4 170.69 L442.8 172.84 L443.2 175.01 L443.6 177.19 L444 179.36 L444.4 181.51 L444.8 183.63 L445.2 185.72 L445.6 187.76 L446 189.73 L446.4 191.64 L446.8 193.46 L447.2 195.2 L447.6 196.84 L448 198.37 L448.4 199.79 L448.8 201.09 L449.2 202.25 L449.6 203.29 L450 204.18 L450.4 204.93 L450.8 205.53 L451.2 205.98 L451.6 206.27 L452 206.41 L452.4 206.4 L452.8 206.23 L453.2 205.9 L453.6 205.42 L454 204.79 L454.4 204.01 L454.8 203.09 L455.2 202.03 L455.6 200.84 L456 199.52 L456.4 198.08 L456.8 196.52 L457.2 194.86 L457.6 193.11 L458 191.26 L458.4 189.34 L458.8 187.35 L459.2 185.31 L459.6 183.21 L460 181.08 L460.4 178.92 L460.8 176.75 L461.2 174.58 L461.6 172.41 L462 170.26 L462.4 168.15 L462.8 166.07 L463.2 164.04 L463.6 162.08 L464 160.19 L464.4 158.38 L464.8 156.66 L465.2 155.04 L465.6 153.53 L466 152.14 L466.4 150.87 L466.8 149.73 L467.2 148.72 L467.6 147.86 L468 147.14 L468.4 146.57 L468.8 146.15 L469.2 145.89 L469.6 145.78 L470 145.82 L470.4 146.03 L470.8 146.38 L471.2 146.89 L471.6 147.55 L472 148.36 L472.4 149.31 L472.8 150.4 L473.2 151.62 L473.6 152.96 L474 154.43 L474.4 156 L474.8 157.68 L475.2 159.46 L475.6 161.32 L476 163.25 L476.4 165.25 L476.8 167.31 L477.2 169.41 L477.6 171.55 L478 173.71 L478.4 175.88 L478.8 178.06 L479.2 180.22 L479.6 182.36 L480 184.47 L480.4 186.54 L480.8 188.55 L481.2 190.5 L481.6 192.38 L482 194.17 L482.4 195.87 L482.8 197.47 L483.2 198.95 L483.6 200.32 L484 201.57 L484.4 202.68 L484.8 203.66 L485.2 204.5 L485.6 205.19 L486 205.73 L486.4 206.11 L486.8 206.35 L487.2 206.43 L487.6 206.35 L488 206.11 L488.4 205.73 L488.8 205.19 L489.2 204.5 L489.6 203.66 L490 202.68 L490.4 201.57 L490.8 200.32 L491.2 198.95 L491.6 197.47 L492 195.87 L492.4 194.17 L492.8 192.38 L493.2 190.5 L493.6 188.55 L494 186.54 L494.4 184.47 L494.8 182.36 L495.2 180.22 L495.6 178.06 L496 175.88 L496.4 173.71 L496.8 171.55 L497.2 169.41 L497.6 167.31 L498 165.25 L498.4 163.25 L498.8 161.32 L499.2 159.46 L499.6 157.68 L500 156 L500.4 154.43 L500.8 152.96 L501.2 151.62 L501.6 150.4 L502 149.31 L502.4 148.36 L502.8 147.55 L503.2 146.89 L503.6 146.38 L504 146.03 L504.4 145.82 L504.8 145.78 L505.2 145.89 L505.6 146.15 L506 146.57 L506.4 147.14 L506.8 147.86 L507.2 148.72 L507.6 149.73 L508 150.87 L508.4 152.14 L508.8 153.53 L509.2 155.04 L509.6 156.66 L510 158.38 L510.4 160.19 L510.8 162.08 L511.2 164.04 L511.6 166.07 L512 168.15 L512.4 170.26 L512.8 172.41 L513.2 174.58 L513.6 176.75 L514 178.92 L514.4 181.08 L514.8 183.21 L515.2 185.31 L515.6 187.35 L516 189.34 L516.4 191.26 L516.8 193.11 L517.2 194.86 L517.6 196.52 L518 198.08 L518.4 199.52 L518.8 200.84" stroke="#aa1d27" stroke-width="1.35" fill="none" stroke-linejoin="round" clip-path="url(#cc)"/>
<path d="M244.5 215.3v-2.5M244.5 136.4v2.5M279.5 215.3v-2.5M279.5 136.4v2.5M314.5 215.3v-2.5M314.5 136.4v2.5M349.5 215.3v-2.5M349.5 136.4v2.5M384.5 215.3v-2.5M384.5 136.4v2.5M419.5 215.3v-2.5M419.5 136.4v2.5M454.5 215.3v-2.5M454.5 136.4v2.5M489.5 215.3v-2.5M489.5 136.4v2.5M215.5 150.5h2.5M518.4 150.5h-2.5M215.5 176.5h2.5M518.4 176.5h-2.5M215.5 201.5h2.5M518.4 201.5h-2.5" stroke="#262626" stroke-width="1" fill="none"/>
<rect x="215.5" y="136.4" width="302.9" height="78.9" stroke="#333333" stroke-width="1" fill="none"/>
<text transform="translate(244.3 229.3) scale(1 1)" font-size="10.3" text-anchor="middle" fill="#2a2a2a" stroke="#2a2a2a" stroke-width="0.2">0.04</text>
<text transform="translate(279.5 229.3) scale(1 1)" font-size="10.3" text-anchor="middle" fill="#2a2a2a" stroke="#2a2a2a" stroke-width="0.2">0.06</text>
<text transform="translate(314.53 229.3) scale(1 1)" font-size="10.3" text-anchor="middle" fill="#2a2a2a" stroke="#2a2a2a" stroke-width="0.2">0.08</text>
<text transform="translate(348.82 229.3) scale(1 1)" font-size="10.3" text-anchor="middle" fill="#2a2a2a" stroke="#2a2a2a" stroke-width="0.2">0.1</text>
<text transform="translate(384.14 229.3) scale(1 1)" font-size="10.3" text-anchor="middle" fill="#2a2a2a" stroke="#2a2a2a" stroke-width="0.2">0.12</text>
<text transform="translate(418.95 229.3) scale(1 1)" font-size="10.3" text-anchor="middle" fill="#2a2a2a" stroke="#2a2a2a" stroke-width="0.2">0.14</text>
<text transform="translate(454.3 229.3) scale(1 1)" font-size="10.3" text-anchor="middle" fill="#2a2a2a" stroke="#2a2a2a" stroke-width="0.2">0.16</text>
<text transform="translate(489.5 229.3) scale(1 1)" font-size="10.3" text-anchor="middle" fill="#2a2a2a" stroke="#2a2a2a" stroke-width="0.2">0.18</text>
<text x="211.5" y="154.96" font-size="10.3" text-anchor="end" fill="#2a2a2a" stroke="#2a2a2a" stroke-width="0.2">100</text>
<text x="211.5" y="180.06" font-size="10.3" text-anchor="end" fill="#2a2a2a" stroke="#2a2a2a" stroke-width="0.2">0</text>
<text x="211.5" y="206.26" font-size="10.3" text-anchor="end" fill="#2a2a2a" stroke="#2a2a2a" stroke-width="0.2">-100</text>
<text transform="translate(15 61.2) rotate(-90) scale(0.94 1)" font-size="14.5" fill="#1a1a1a" stroke="#1a1a1a" stroke-width="0.25">I</text>
<text transform="translate(21.2 57.3) rotate(-90) scale(1.06 1)" font-size="9.9" fill="#1a1a1a" stroke="#1a1a1a" stroke-width="0.15">grid</text>
<text transform="translate(15 36.2) rotate(-90) scale(0.94 1)" font-size="14.5" fill="#1a1a1a" stroke="#1a1a1a" stroke-width="0.25">(A)</text>
<text transform="translate(372.3 60.6) rotate(-90) scale(0.94 1)" font-size="12.8" fill="#1a1a1a" stroke="#1a1a1a" stroke-width="0.1">I</text>
<text transform="translate(377.9 58.7) rotate(-90) scale(1.06 1)" font-size="9.6" fill="#1a1a1a" stroke="#1a1a1a" stroke-width="0.15">grid</text>
<text transform="translate(372.3 38.45) rotate(-90) scale(0.94 1)" font-size="12.8" fill="#1a1a1a" stroke="#1a1a1a" stroke-width="0.1">(A)</text>
<text transform="translate(182 197.8) rotate(-90) scale(0.94 1)" font-size="13.6" fill="#1a1a1a" stroke="#1a1a1a" stroke-width="0.25">I</text>
<text transform="translate(187.9 193.8) rotate(-90) scale(1.06 1)" font-size="9.65" fill="#1a1a1a" stroke="#1a1a1a" stroke-width="0.15">grid</text>
<text transform="translate(182 171.8) rotate(-90) scale(0.94 1)" font-size="13.6" fill="#1a1a1a" stroke="#1a1a1a" stroke-width="0.25">(A)</text>
<text transform="translate(200.6 102) scale(0.97 1)" font-size="13.6" text-anchor="middle" fill="#1a1a1a">Time (s)</text>
<text transform="translate(541.2 101.7) scale(0.965 1)" font-size="12.6" text-anchor="middle" fill="#1a1a1a">Time (s)</text>
<text transform="translate(366.7 245) scale(0.96 1)" font-size="13.8" text-anchor="middle" fill="#1a1a1a">Time (s)</text>
<text x="195.9" y="118.1" font-size="12.8" text-anchor="middle" style="font-family:'Liberation Serif',serif" fill="#2a2a2a">(a)</text>
<text x="540.1" y="118.1" font-size="12.8" text-anchor="middle" style="font-family:'Liberation Serif',serif" fill="#2a2a2a">(b)</text>
<text x="364.2" y="260.2" font-size="12.8" text-anchor="middle" style="font-family:'Liberation Serif',serif" fill="#2a2a2a">(c)</text>
</svg>
</body></html>
